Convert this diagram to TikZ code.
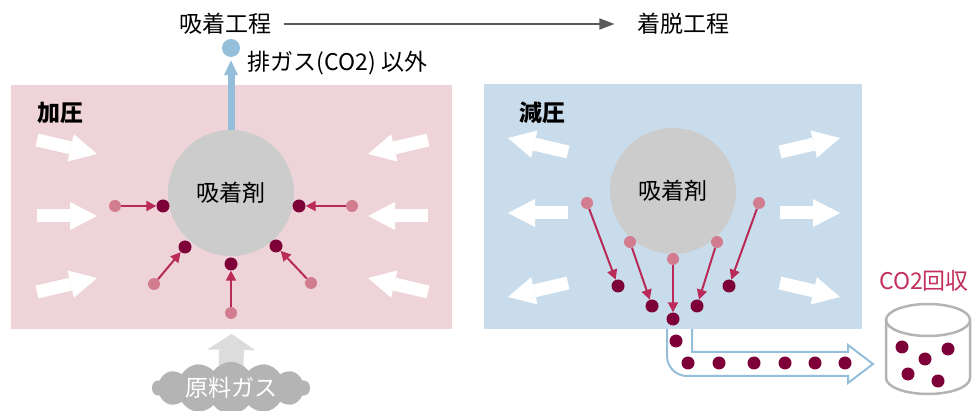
\documentclass[tikz,border=0pt]{standalone}
\usepackage{fontspec}
\setmainfont{Noto Sans CJK JP}
\usetikzlibrary{arrows.meta,shapes.symbols}
\definecolor{boxpink}{HTML}{EED4D8}
\definecolor{boxblue}{HTML}{C9DCEB}
\definecolor{sorbgray}{HTML}{CCCCCC}
\definecolor{ventblue}{HTML}{95BEDB}
\definecolor{molfree}{HTML}{D27C8F}
\definecolor{molbound}{HTML}{7D0039}
\definecolor{molarrow}{HTML}{B92A58}
\definecolor{feedgray}{HTML}{B4B4B4}
\definecolor{feedlight}{HTML}{DCDCDC}
\definecolor{co2red}{HTML}{C2305C}
\definecolor{lineg}{HTML}{5A5A5A}
\tikzset{
	chamber/.style={anchor=north west,inner sep=0pt,minimum width=#1},
	sorbent/.style={circle,fill=sorbgray,minimum size=126pt,inner sep=0pt},
	boundmol/.style={circle,fill=molbound,minimum size=13pt,inner sep=0pt},
	freemol/.style={circle,fill=molfree,minimum size=12pt,inner sep=0pt},
	molmove/.style={draw=molarrow,line width=2pt,-{Triangle[length=10pt,width=10pt]}},
	pressarrow/.style={white,line width=13pt,-{Triangle[length=27pt,width=28pt,line width=0pt]}},
	tank/.style={draw=feedgray,fill=white,line width=2.5pt},
}
\begin{document}
\begin{tikzpicture}[x=1pt,y=-1pt,font=\fontsize{23}{27}\selectfont,line join=round]
				\useasboundingbox (0,0) rectangle (977,411);
				% chambers
				\node[chamber=441pt,minimum height=244pt,fill=boxpink] (box1) at (11,85) {};
				\node[chamber=378pt,minimum height=245pt,fill=boxblue] (box2) at (484,84) {};
				\node[font=\fontsize{23}{27}\selectfont\bfseries] (lbl1) at (60,113) {加圧};
				\node[font=\fontsize{23}{27}\selectfont\bfseries] (lbl2) at (542,113) {減圧};
				% process steps
				\node (step1) at (225,24) {吸着工程};
				\node (step2) at (683,24) {着脱工程};
				\draw[lineg,line width=1.5pt,-{Triangle[length=15pt,width=11pt]},
				shorten <=9pt,shorten >=19pt] (step1) -- (step2);
				% white pressure arrows
				\foreach \x/\y/\u/\v in {37/140/97/154,37/216/97/216,37/292/97/278,
				428/140/368/154,428/216/368/216,428/292/368/278,
				568/152/508/138,568/213/508/213,568/283/508/297,
				780/152/840/138,780/213/840/213,780/283/840/297}
				\draw[pressarrow] (\x,\y) -- (\u,\v);
				% adsorbent
				\node[sorbent] (ads1) at (231,193) {吸着剤};
				\node[sorbent] (ads2) at (673,191) {吸着剤};
				\node[circle,fill=ventblue,minimum size=18pt,inner sep=0pt] (vent) at (231,48) {};
				\draw[ventblue,line width=7pt,-{Triangle[length=15pt,width=14pt,line width=0pt]},
				shorten >=3pt] (ads1.north) -- (vent.south);
				\node[anchor=west] (ventlbl) at (244,63) {排ガス(CO2) 以外};
				% molecules
				\foreach \i/\a/\b/\c/\d in {1/115/206/163/206,2/154/284/185/247,3/231/313/231/264,
				4/311/283/276/246,5/352/206/299/206}{
					\node[freemol] (fa\i) at (\a,\b) {};
					\node[boundmol] (ba\i) at (\c,\d) {};
					\draw[molmove] (fa\i) -- (ba\i);
				}
				\foreach \i/\a/\b/\c/\d in {1/587/203/618/286,2/630/242/652/306,3/673/259/673/319,
				4/717/242/697/306,5/759/203/729/286}{
					\node[freemol] (fb\i) at (\a,\b) {};
					\node[boundmol] (bb\i) at (\c,\d) {};
					\draw[molmove] (fb\i) -- (bb\i);
				}
				% feed gas
				\coordinate (feedtop) at (231,372);
				\draw[feedlight,line width=25pt,-{Triangle[length=16pt,width=48pt,line width=0pt]},
				shorten >=4.5pt] (feedtop) -- (box1.south);
				\node[cloud,cloud puffs=14,cloud puff arc=110,aspect=3.4,fill=feedgray,minimum width=158pt,
				minimum height=46pt,inner sep=0pt,text=white]
				(feed) at (231,388) {原料ガス};
				% CO2 outlet pipe
				\draw[ventblue,line width=2pt,line join=miter] (667,329) -- (667,356)
				.. controls (667,367) and (676,376) .. (687,376) -- (848,376) -- (848,383)
				-- (873,364) -- (848,345) -- (848,352) -- (692,352) -- (692,329);
				\foreach \i/\x/\y in {1/676/341,2/688/363,3/719/363,4/754/363,5/785/363,6/815/363,7/845/363}
				\node[boundmol] (p\i) at (\x,\y) {};
				% tank
				\filldraw[tank] (886,320) -- (886,378) arc[start angle=180,end angle=360,
				x radius=42pt,y radius=16pt] -- (970,320);
				\filldraw[tank] (928,320) ellipse[x radius=42pt,y radius=16pt];
				\foreach \i/\x/\y in {1/902/347,2/925/359,3/948/349,4/908/374,5/938/381}
				\node[boundmol] (c\i) at (\x,\y) {};
				\node[text=co2red] (tanklbl) at (924,281) {CO2回収};
		\end{tikzpicture}
\end{document}
